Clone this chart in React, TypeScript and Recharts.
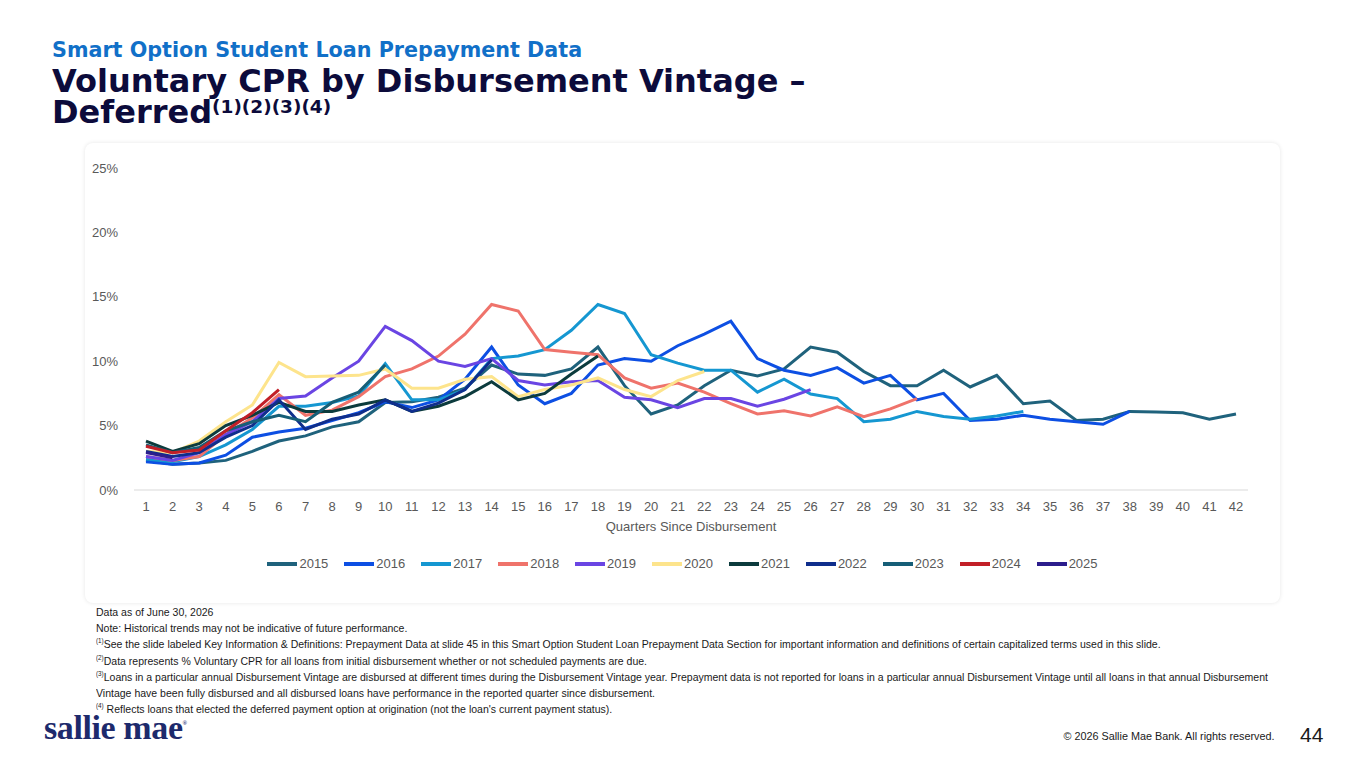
import React from "react";
import { LineChart, Line, XAxis, YAxis, Legend } from "recharts";

// quarters since disbursement (x categories)
const quarters = [
  "1", "2", "3", "4", "5", "6", "7", "8", "9", "10", "11", "12", "13", "14",
  "15", "16", "17", "18", "19", "20", "21", "22", "23", "24", "25", "26", "27", "28",
  "29", "30", "31", "32", "33", "34", "35", "36", "37", "38", "39", "40", "41", "42",
];

const yTicks = [0, 5, 10, 15, 20, 25];

// voluntary CPR %
const v2015 = [
  2.3, 2.0, 2.1, 2.3, 3.0, 3.8, 4.2, 4.9, 5.3, 6.8, 6.85, 7.2, 7.9, 9.7, 9.0, 8.9,
  9.4, 11.1, 8.1, 5.9, 6.6, 8.1, 9.3, 8.85, 9.4, 11.1, 10.7, 9.2, 8.1, 8.1, 9.3, 8.0,
  8.9, 6.7, 6.9, 5.4, 5.5, 6.1, 6.05, 6.0, 5.5, 5.9,
];
const v2016 = [
  2.2, 2.0, 2.1, 2.7, 4.1, 4.5, 4.8, 5.4, 6.0, 6.85, 6.4, 7.0, 8.6, 11.1, 8.15, 6.7,
  7.5, 9.7, 10.2, 10.0, 11.2, 12.1, 13.1, 10.2, 9.3, 8.9, 9.5, 8.3, 8.9, 7.0, 7.5, 5.4,
  5.5, 5.8, 5.5, 5.3, 5.1, 6.1,
];
const v2017 = [
  2.4, 2.2, 2.6, 3.5, 4.7, 6.5, 6.5, 6.8, 7.3, 9.8, 7.0, 7.0, 7.8, 10.2, 10.4, 10.9,
  12.4, 14.4, 13.7, 10.5, 9.85, 9.3, 9.3, 7.6, 8.6, 7.45, 7.1, 5.3, 5.5, 6.1, 5.7, 5.5,
  5.75, 6.1,
];
const v2018 = [
  2.6, 2.3, 2.6, 4.3, 5.6, 7.4, 5.8, 6.2, 7.25, 8.8, 9.4, 10.4, 12.1, 14.4, 13.9, 10.9,
  10.7, 10.5, 8.7, 7.9, 8.3, 7.6, 6.7, 5.9, 6.15, 5.75, 6.45, 5.7, 6.3, 7.1,
];
const v2019 = [
  2.6, 2.3, 2.9, 4.3, 5.3, 7.1, 7.3, 8.7, 10.0, 12.7, 11.6, 10.0, 9.6, 10.2, 8.5, 8.15,
  8.4, 8.5, 7.2, 7.0, 6.4, 7.1, 7.1, 6.5, 7.05, 7.8,
];
const v2020 = [
  3.0, 2.9, 3.8, 5.3, 6.6, 9.9, 8.8, 8.85, 8.9, 9.4, 7.9, 7.9, 8.6, 8.8, 7.25, 7.8,
  8.15, 8.7, 7.8, 7.25, 8.5, 9.2,
];
const v2021 = [
  3.8, 3.0, 3.6, 5.0, 5.8, 6.8, 6.1, 6.1, 6.6, 7.0, 6.1, 6.5, 7.25, 8.4, 7.0, 7.5,
  9.0, 10.4,
];
const v2022 = [3.0, 2.6, 2.9, 4.1, 5.0, 7.0, 4.7, 5.5, 5.9, 7.0, 6.1, 6.75, 7.8, 10.1];
const v2023 = [3.5, 2.9, 3.3, 4.6, 5.3, 5.8, 5.3, 6.8, 7.6, 9.7];
const v2024 = [3.4, 2.9, 3.1, 4.6, 6.0, 7.8];
const v2025 = [2.9, 2.5];

const vintages = ["2015", "2016", "2017", "2018", "2019", "2020", "2021", "2022", "2023", "2024", "2025"];
const seriesValues = [v2015, v2016, v2017, v2018, v2019, v2020, v2021, v2022, v2023, v2024, v2025];
const colors = [
  "#1f627c", "#0d4fe3", "#1597d1", "#ef736b", "#6a45e3", "#fde48c",
  "#0c3b3d", "#0f2e8c", "#165e77", "#c21f27", "#2c1d8c",
];

const chartData = quarters.map((q, i) => {
  const row: Record<string, string | number | null> = { quarter: q };
  vintages.forEach((v, k) => {
    const val = seriesValues[k][i];
    row[v] = val === undefined ? null : val;
  });
  return row;
});

const heavy = "'DejaVu Sans', 'Liberation Sans', Arial, sans-serif";

const renderLegend = (props: any) => (
  <div
    style={{
      display: "flex",
      justifyContent: "center",
      gap: 16,
      fontSize: 13,
      color: "#595959",
      fontFamily: "'Liberation Sans', Arial, sans-serif",
    }}
  >
    {(props.payload || []).map((e: any) => (
      <span key={e.value} style={{ display: "flex", alignItems: "center" }}>
        <span style={{ width: 30, height: 4, background: e.color, marginRight: 2, display: "inline-block" }} />
        {e.value}
      </span>
    ))}
  </div>
);

const Sup = ({ children }: { children: React.ReactNode }) => (
  <sup style={{ fontSize: "0.6em", verticalAlign: "super", lineHeight: 0 }}>{children}</sup>
);

const notes = [
  <>Data as of June 30, 2026</>,
  <>Note: Historical trends may not be indicative of future performance.</>,
  <>
    <Sup>(1)</Sup>See the slide labeled Key Information &amp; Definitions: Prepayment Data at slide 45 in this Smart
    Option Student Loan Prepayment Data Section for important information and definitions of certain capitalized
    terms used in this slide.
  </>,
  <>
    <Sup>(2)</Sup>Data represents % Voluntary CPR for all loans from initial disbursement whether or not scheduled
    payments are due.
  </>,
  <>
    <Sup>(3)</Sup>Loans in a particular annual Disbursement Vintage are disbursed at different times during the
    Disbursement Vintage year. Prepayment data is not reported for loans in a particular annual Disbursement Vintage
    until all loans in that annual Disbursement
  </>,
  <>Vintage have been fully disbursed and all disbursed loans have performance in the reported quarter since disbursement.</>,
  <>
    <Sup>(4)</Sup> Reflects loans that elected the deferred payment option at origination (not the loan's current
    payment status).
  </>,
];

export default function App() {
  return (
    <div
      style={{
        position: "absolute",
        left: 0,
        top: 0,
        width: 1365,
        height: 768,
        background: "#ffffff",
        overflow: "hidden",
        fontFamily: "'Liberation Sans', Arial, sans-serif",
      }}
    >
      <div
        style={{
          position: "absolute",
          left: 52,
          top: 38,
          fontSize: 20.7,
          lineHeight: "24px",
          fontWeight: 700,
          color: "#1170c8",
          fontFamily: heavy,
          whiteSpace: "nowrap",
        }}
      >
        Smart Option Student Loan Prepayment Data
      </div>
      <div
        style={{
          position: "absolute",
          left: 52,
          top: 66,
          fontSize: 32,
          lineHeight: "31px",
          fontWeight: 700,
          color: "#0c0b3b",
          fontFamily: heavy,
          whiteSpace: "nowrap",
        }}
      >
        Voluntary CPR by Disbursement Vintage –
        <br />
        Deferred
        <span style={{ fontSize: 18.5, position: "relative", top: -10 }}>(1)(2)(3)(4)</span>
      </div>

      <div
        style={{
          position: "absolute",
          left: 85,
          top: 143,
          width: 1195,
          height: 460,
          background: "#fff",
          borderRadius: 8,
          boxShadow: "0 0 4px rgba(0,0,0,0.10)",
        }}
      >
        <LineChart
          width={1195}
          height={460}
          data={chartData}
          margin={{ top: 25, right: 32, left: 0, bottom: 32 }}
        >
          <XAxis
            dataKey="quarter"
            padding={{ left: 12, right: 12 }}
            tickLine={false}
            axisLine={{ stroke: "#d9d9d9" }}
            tick={{ fill: "#595959", fontSize: 13 }}
            tickMargin={6}
            interval={0}
            height={66}
            label={{
              value: "Quarters Since Disbursement",
              position: "insideBottom",
              offset: 25,
              fill: "#595959",
              fontSize: 13,
            }}
          />
          <YAxis
            domain={[0, 25]}
            ticks={yTicks}
            width={49}
            tickFormatter={(v) => `${v}%`}
            tickLine={false}
            axisLine={false}
            tick={{ fill: "#595959", fontSize: 13 }}
            tickMargin={10}
          />
          <Legend verticalAlign="bottom" content={renderLegend} wrapperStyle={{ left: 16 }} />
          {vintages.map((v, k) => (
            <Line
              key={v}
              type="linear"
              dataKey={v}
              stroke={colors[k]}
              strokeWidth={3}
              dot={false}
              activeDot={false}
              isAnimationActive={false}
            />
          ))}
        </LineChart>
      </div>

      <div
        style={{
          position: "absolute",
          left: 96,
          top: 604,
          fontSize: 11.5,
          lineHeight: "16.2px",
          color: "#1a1a1a",
          whiteSpace: "nowrap",
          transform: "scaleX(0.914)",
          transformOrigin: "0 0",
        }}
      >
        {notes.map((n, i) => (
          <div key={i}>{n}</div>
        ))}
      </div>

      <div
        style={{
          position: "absolute",
          left: 44,
          top: 716,
          fontSize: 34,
          lineHeight: "24px",
          fontWeight: 700,
          color: "#1d2a6c",
          fontFamily: "'Liberation Serif', 'DejaVu Serif', serif",
          letterSpacing: -0.4,
          whiteSpace: "nowrap",
        }}
      >
        sallie mae
        <span style={{ fontSize: 6, position: "relative", top: -14 }}>®</span>
      </div>

      <div
        style={{
          position: "absolute",
          right: 90,
          top: 730,
          fontSize: 11.5,
          color: "#1a1a1a",
          whiteSpace: "nowrap",
          transform: "scaleX(0.94)",
          transformOrigin: "100% 0",
        }}
      >
        © 2026 Sallie Mae Bank. All rights reserved.
      </div>
      <div
        style={{
          position: "absolute",
          left: 1300,
          top: 723,
          fontSize: 21,
          color: "#1a1a1a",
          whiteSpace: "nowrap",
        }}
      >
        44
      </div>
    </div>
  );
}
